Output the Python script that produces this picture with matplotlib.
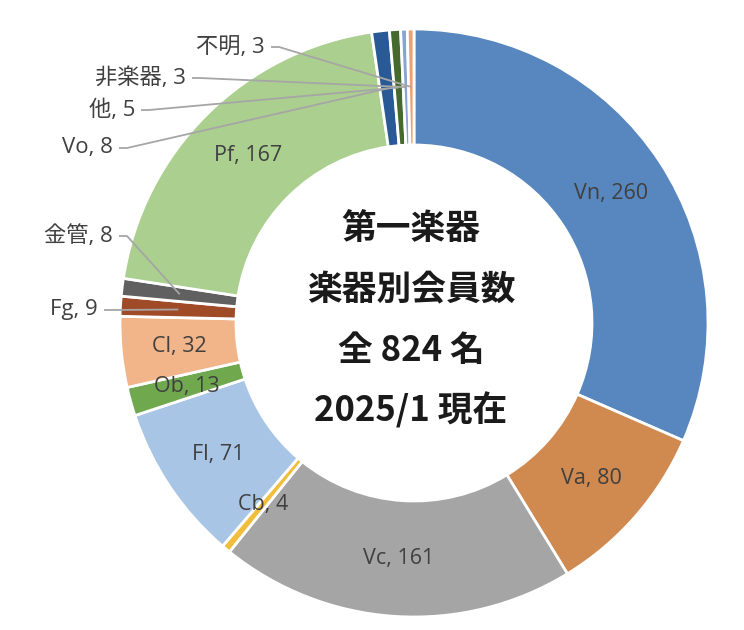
import numpy as np
import matplotlib
matplotlib.use("Agg")
import matplotlib.pyplot as plt

categories = ["Vn", "Va", "Vc", "Cb", "Fl", "Ob", "Cl", "Fg", "金管", "Pf", "Vo", "他", "非楽器", "不明"]
values = [260, 80, 161, 4, 71, 13, 32, 9, 8, 167, 8, 5, 3, 3]
colors = ["#5886BE", "#D0894F", "#A5A5A5", "#F0BE3C", "#A8C5E6", "#70A84E", "#F2B489",
          "#A04B28", "#606060", "#AACF8E", "#2A5A95", "#46692D", "#88A4D4", "#EDA070"]
inside = ["Vn", "Va", "Vc", "Cb", "Fl", "Ob", "Cl", "Pf"]
outside_pos = {"不明": (265, 47), "非楽器": (186, 78), "他": (135, 110), "Vo": (113, 148),
               "金管": (113, 236), "Fg": (98, 310)}
center_lines = ["第一楽器", "楽器別会員数", "全 824 名", "2025/1 現在"]

W, H = 744, 630
fig = plt.figure(figsize=(W / 100, H / 100), dpi=100)
ax = fig.add_axes([0, 0, 1, 1])

cx, cy = 414, H - 323
R, width = 294, 116
wedges, _ = ax.pie(values, colors=colors, startangle=90, counterclock=False,
                   radius=R, center=(cx, cy),
                   wedgeprops=dict(width=width, edgecolor="white", linewidth=2))
ax.set_xlim(0, W)
ax.set_ylim(0, H)
ax.set_aspect("equal")
ax.axis("off")

lab_font = ["Open Sans", "Noto Sans CJK JP", "DejaVu Sans"]
rm = R - width / 2
for w, cat, v in zip(wedges, categories, values):
    ang = np.deg2rad((w.theta1 + w.theta2) / 2)
    px, py = cx + rm * np.cos(ang), cy + rm * np.sin(ang)
    txt = f"{cat}, {v}"
    if cat in inside:
        ax.text(px, py, txt, ha="center", va="center", fontsize=15.5,
                color="#404040", family=lab_font)
    else:
        tx, ty = outside_pos[cat]
        ty = H - ty
        ax.text(tx, ty, txt, ha="right", va="center", fontsize=16,
                color="#404040", family=lab_font)
        ax.plot([tx + 6, tx + 14, px], [ty, ty, py], color="#A6A6A6", lw=1.3,
                solid_capstyle="butt")

ys = [228, 290, 350, 410]
for t, y in zip(center_lines, ys):
    ax.text(411, H - y, t, ha="center", va="center", fontsize=25, fontweight="bold",
            color="#1A1A1A", family=["Noto Sans CJK JP", "DejaVu Sans"])

fig.savefig("out.png", dpi=100)
